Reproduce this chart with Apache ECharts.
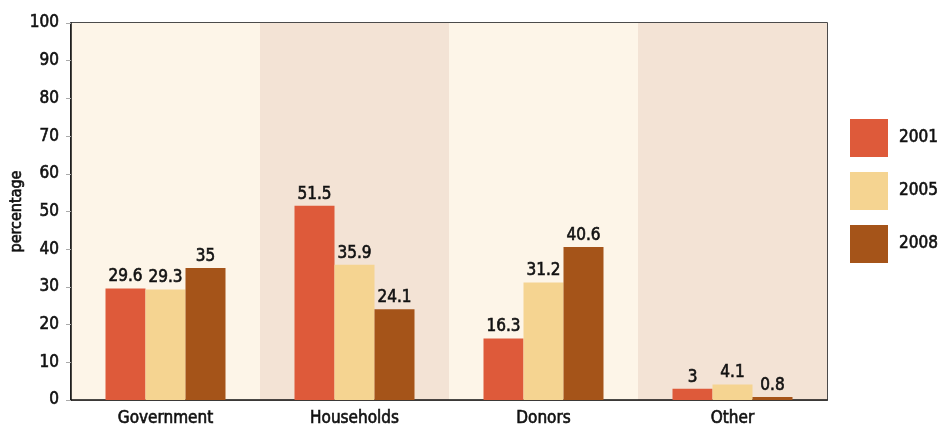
<!DOCTYPE html>
<html><head><meta charset="utf-8">
<script src="https://cdn.jsdelivr.net/npm/echarts@6/dist/echarts.min.js"></script>
<style>html,body{margin:0;padding:0;background:#fff}#c{width:938px;height:426px}</style>
</head><body><div id="c"></div>
<script>
const categories = ["Government", "Households", "Donors", "Other"];
const years = ["2001", "2005", "2008"];
const v2001 = [29.6, 51.5, 16.3, 3];
const v2005 = [29.3, 35.9, 31.2, 4.1];
const v2008 = [35, 24.1, 40.6, 0.8];
const colors = ["#de5a3a", "#f5d491", "#a55419"];
const FONT = '"Liberation Sans Narrow","DejaVu Sans Condensed","Roboto Condensed",sans-serif';
const T = {color: '#111', fontFamily: FONT, fontSize: 17, fontWeight: 'normal', textBorderColor: '#111', textBorderWidth: 0.6};

const chart = echarts.init(document.getElementById('c'), null, {renderer: 'canvas'});
const mk = (name, data, i) => ({
  name, type: 'bar', data, barWidth: 40, barGap: '0%',
  itemStyle: {color: colors[i]},
  label: Object.assign({show: true, position: 'top', distance: 3}, T)
});
chart.setOption({
  animation: false,
  textStyle: {fontFamily: FONT},
  grid: {left: 71, right: 111, top: 23, bottom: 26, show: true, borderColor: '#111', borderWidth: 1.5,
         backgroundColor: 'transparent', containLabel: false, outerBoundsMode: 'none'},
  legend: {
    orient: 'vertical', left: 845, top: 114, itemWidth: 38, itemHeight: 38, itemGap: 15,
    icon: 'rect', data: years,
    textStyle: Object.assign({padding: [0, 0, 0, 6]}, T)
  },
  xAxis: {
    type: 'category', data: categories,
    axisLine: {lineStyle: {color: '#111', width: 1.5}},
    axisTick: {show: false},
    axisLabel: Object.assign({margin: 10}, T),
    splitArea: {show: true, areaStyle: {color: ['#fdf5e8', '#f3e3d5']}}
  },
  yAxis: {
    type: 'value', min: 0, max: 100, interval: 10,
    name: 'percentage', nameLocation: 'middle', nameGap: 46, nameRotate: 90, nameMoveOverlap: false,
    nameTextStyle: Object.assign({}, T, {fontSize: 16}),
    axisLine: {show: true, lineStyle: {color: '#111', width: 1.5}},
    axisTick: {show: true, length: 5, lineStyle: {color: '#aaa'}},
    axisLabel: Object.assign({margin: 12}, T),
    splitLine: {lineStyle: {color: '#bdb5ad', width: 1}}
  },
  series: [mk(years[0], v2001, 0), mk(years[1], v2005, 1), mk(years[2], v2008, 2)]
});
</script></body></html>
